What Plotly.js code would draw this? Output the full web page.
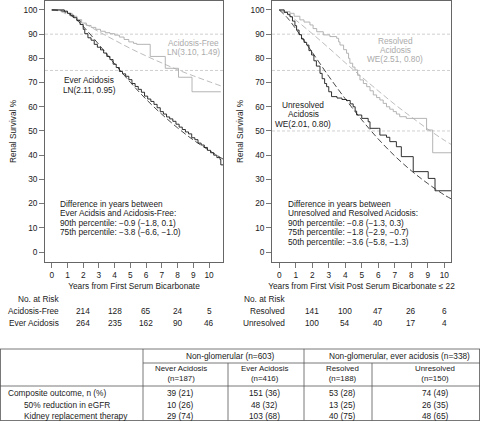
<!DOCTYPE html>
<html><head><meta charset="utf-8">
<script src="https://cdn.plot.ly/plotly-3.0.1.min.js"></script>
<style>html,body{margin:0;padding:0;background:#fff}#chart{width:480px;height:422px}</style>
</head><body><div id="chart"></div>
<script>
// ---------- Left panel: Kaplan-Meier (steps) ----------
const everAcidosisT = [0,0.6,0.8,1.0,1.2,1.4,1.6,1.8,2.0,2.1,2.3,2.5,2.7,2.9,3.1,3.3,3.5,3.7,3.9,4.1,4.3,4.5,4.7,4.9,5.1,5.3,5.5,5.7,5.9,6.1,6.3,6.5,6.7,6.9,7.1,7.3,7.5,7.7,7.9,8.1,8.3,8.5,8.7,8.9,9.1,9.3,9.5,9.7,9.9,10.1,10.3,10.5,10.7,10.75,10.89];
const everAcidosisS = [100,100,99.5,98.6,97.8,96.8,95.6,94.0,92.0,90.2,88.5,87.5,85.8,84.6,83.5,82.2,80.8,79.5,77.6,76.2,74.6,73.6,72.6,71.2,69.6,68.4,67.2,66.0,64.4,63.2,62.2,61.0,59.6,58.0,57.0,55.8,55.0,54.0,52.8,51.6,50.6,49.6,48.8,47.2,46.4,45.0,44.2,43.2,42.0,41.0,40.0,39.0,38.2,36.0,36.0];
const acidosisFreeT = [0,0.6,0.8,1.0,1.3,1.6,1.9,2.2,2.5,2.8,3.1,3.4,3.7,4.0,4.3,4.6,4.9,5.2,5.4,6.26,7.22,8.06,8.92,10.75];
const acidosisFreeS = [100,100,99.4,98.6,97.4,96.0,94.6,93.6,92.8,92.0,91.2,90.6,90.2,89.6,88.8,87.8,86.8,86.2,85.8,80.8,75.9,72.2,66.2,66.2];
// fitted
const fitLeftT = [0,0.5,1,1.5,2,3,4,5,6,7,8,9,10,10.89];
const fitEverS = [100,99.8,98.7,96.4,93.2,85.7,77.7,70.1,63.1,56.9,51.3,46.3,42.0,38.4];
const fitFreeS = [100,99.5,98.1,96.5,94.7,91.0,87.5,84.1,81.0,78.1,75.3,72.8,70.4,68.3];

// ---------- Right panel ----------
const unresolvedT = [0,0.3,0.5,0.65,0.8,0.95,1.05,1.2,1.35,1.5,1.66,1.8,1.96,2.1,2.25,2.47,2.6,2.75,2.87,3.0,3.17,3.5,3.8,4.08,4.3,4.48,4.6,4.69,5.0,5.39,5.5,6.0,6.1,6.5,6.7,7.1,7.4,8.12,9.03,9.44,10.41];
const unresolvedS = [100,99,98.2,97.2,95.4,93.5,91.7,89.8,88.0,86.6,85.5,83.2,81.4,79.0,76.8,73.8,71.6,69.6,68.3,66.2,64.2,63.6,63.0,62.6,61.2,60.0,58.2,56.6,55.2,53.8,51.1,51.1,48.3,47.4,45.6,43.5,39.4,33.2,30.4,25.3,25.3];
const resolvedT = [0,0.3,0.65,0.9,1.25,1.5,1.86,2.05,2.27,2.67,3.07,3.48,3.6,3.68,3.9,4.08,4.2,4.28,4.45,4.59,4.75,4.89,5.1,5.3,5.5,5.7,5.9,6.1,6.3,6.5,6.7,6.91,7.1,7.3,7.7,8.93,9.3,10.41];
const resolvedS = [100,99.3,98.6,97.4,95.9,95.0,93.8,92.3,91.0,89.7,89.0,88.3,86.8,85.5,83.6,82.1,80.0,78.0,76.4,75.2,73.0,71.1,69.6,68.3,66.6,64.9,63.8,62.8,61.4,60.0,59.0,58.0,57.0,55.9,55.2,50.4,41.0,41.0];
const fitRightT = [0,0.5,1,2,3,4,5,6,7,8,9,10,10.41];
const fitUnresolvedS = [100,96.7,92.2,82.5,72.6,63.3,54.6,46.7,39.7,33.6,28.3,23.6,22.0];
const fitResolvedS = [100,98.2,95.8,90.2,84.3,78.2,72.3,66.6,61.0,55.8,50.8,46.2,44.5];

// ---------- Risk tables ----------
const riskTimes = [2,4,6,8,10];
const riskAcidosisFree = [214,128,65,24,5];
const riskEverAcidosis = [264,235,162,90,46];
const riskResolved = [141,100,47,26,6];
const riskUnresolved = [100,54,40,17,4];

// ---------- Outcome table ----------
const tableRowLabels = ['Composite outcome, n (%)','50% reduction in eGFR','Kidney replacement therapy'];
const tableGroupHeaders = ['Non-glomerular (n=603)','Non-glomerular, ever acidosis (n=338)'];
const tableColNames = ['Never Acidosis','Ever Acidosis','Resolved','Unresolved'];
const tableColN = ['(n=187)','(n=416)','(n=188)','(n=150)'];
const tableValues = [
  ['39 (21)','151 (36)','53 (28)','74 (49)'],
  ['10 (26)','48 (32)','13 (25)','26 (35)'],
  ['29 (74)','103 (68)','40 (75)','48 (65)']
];

const W = 480, H = 422;
const PX = x => x / W;
const PY = y => 1 - y / H;
const FONT = 'Liberation Sans, Arial, Helvetica, sans-serif';
const BLACK = '#1a1a1a', GRAY = '#ababab', LINE = '#555';
const FS = 8.3;

function step(x, y, color, xa, ya) {
  return {x, y, xaxis: xa, yaxis: ya, mode: 'lines', line: {shape: 'hv', color, width: 0.9}, hoverinfo: 'skip'};
}
function fit(x, y, color, xa, ya) {
  return {x, y, xaxis: xa, yaxis: ya, mode: 'lines', line: {shape: 'spline', color, width: 0.8, dash: '6px,3px'}, hoverinfo: 'skip'};
}

const traces = [
  fit(fitLeftT, fitFreeS, GRAY, 'x', 'y'),
  step(acidosisFreeT, acidosisFreeS, GRAY, 'x', 'y'),
  fit(fitLeftT, fitEverS, BLACK, 'x', 'y'),
  step(everAcidosisT, everAcidosisS, BLACK, 'x', 'y'),
  fit(fitRightT, fitResolvedS, GRAY, 'x2', 'y2'),
  step(resolvedT, resolvedS, GRAY, 'x2', 'y2'),
  fit(fitRightT, fitUnresolvedS, BLACK, 'x2', 'y2'),
  step(unresolvedT, unresolvedS, BLACK, 'x2', 'y2')
];

const ydom = [1 - 262 / H, 1 - 1 / H];
function xax(dom, range, title) {
  return {domain: dom, range, tickvals: [0,1,2,3,4,5,6,7,8,9,10], ticks: 'outside', ticklen: 5, tickwidth: 0.8,
    tickcolor: LINE, showline: true, mirror: true, linecolor: LINE, linewidth: 0.9, showgrid: false, zeroline: false,
    tickfont: {size: FS, color: BLACK, family: FONT}, fixedrange: true,
    title: {text: title, font: {size: FS, color: BLACK, family: FONT}, standoff: 4}};
}
function yax(anchor, title) {
  return {domain: ydom, range: [-4.13, 103.7], tickvals: [0,10,20,30,40,50,60,70,80,90,100], ticks: 'outside', ticklen: 5,
    tickwidth: 0.8, tickcolor: LINE, showline: true, mirror: true, linecolor: LINE, linewidth: 0.9, showgrid: false,
    zeroline: false, anchor, tickfont: {size: FS, color: BLACK, family: FONT}, fixedrange: true,
    title: {text: title, font: {size: FS, color: BLACK, family: FONT}, standoff: 5}};
}

const shapes = [];
function hdash(xref, yref, y) {
  shapes.push({type: 'line', xref: xref + ' domain', yref, x0: 0, x1: 1, y0: y, y1: y,
    line: {color: '#c4c4c4', width: 0.8, dash: '3px,2px'}, layer: 'below'});
}
[90, 75].forEach(v => hdash('x', 'y', v));
[90, 75, 50].forEach(v => hdash('x2', 'y2', v));

// table lines (pixel positions)
function tline(x0, y0, x1, y1) {
  shapes.push({type: 'line', xref: 'paper', yref: 'paper', x0: PX(x0), x1: PX(x1), y0: PY(y0), y1: PY(y1),
    line: {color: LINE, width: 0.8}});
}
tline(0, 349, 480, 349);
tline(143, 363, 480, 363);
tline(0, 386, 480, 386);
tline(0, 420.5, 480, 420.5);
tline(0.5, 349, 0.5, 420.5);
tline(143, 349, 143, 420.5);
tline(228, 363, 228, 420.5);
tline(304, 349, 304, 420.5);
tline(372, 363, 372, 420.5);
tline(479.5, 349, 479.5, 420.5);

const ann = [];
function txt(x, y, text, opts = {}) {
  ann.push(Object.assign({xref: 'paper', yref: 'paper', x: PX(x), y: PY(y), text, showarrow: false,
    xanchor: 'center', yanchor: 'middle', font: {size: FS, color: BLACK, family: FONT}}, opts));
}
// curve labels
txt(193, 43, 'Acidosis-Free', {font: {size: FS, color: GRAY, family: FONT}});
txt(193, 52, 'LN(3.10, 1.49)', {font: {size: FS, color: GRAY, family: FONT}});
txt(89, 80, 'Ever Acidosis');
txt(89, 90, 'LN(2.11, 0.95)');
txt(395, 40.7, 'Resolved', {font: {size: FS, color: GRAY, family: FONT}});
txt(395, 50, 'Acidosis', {font: {size: FS, color: GRAY, family: FONT}});
txt(395, 59.3, 'WE(2.51, 0.80)', {font: {size: FS, color: GRAY, family: FONT}});
txt(303, 105, 'Unresolved');
txt(303, 114.3, 'Acidosis');
txt(303, 124, 'WE(2.01, 0.80)');
// difference blocks
const diffLeft = ['Difference in years between','Ever Acidsis and Acidosis-Free:','90th percentile: \u22120.9 (\u22121.8, 0.1)','75th percentile: \u22123.8 (\u22126.6, \u22121.0)'];
const diffRight = ['Difference in years between','Unresolved and Resolved Acidosis:','90th percentile: \u22120.8 (\u22121.3, 0.3)','75th percentile: \u22121.8 (\u22122.9, \u22120.7)','50th percentile: \u22123.6 (\u22125.8, \u22121.3)'];
diffLeft.forEach((t, i) => txt(58, 204 + i * 9.4, t, {xanchor: 'left'}));
diffRight.forEach((t, i) => txt(286, 204 + i * 9.4, t, {xanchor: 'left'}));
// risk tables
txt(61, 299, 'No. at Risk', {xanchor: 'right'});
txt(61, 310.7, 'Acidosis-Free', {xanchor: 'right'});
txt(61, 322.7, 'Ever Acidosis', {xanchor: 'right'});
txt(287, 299, 'No. at Risk', {xanchor: 'right'});
txt(287, 310.7, 'Resolved', {xanchor: 'right'});
txt(287, 322.7, 'Unresolved', {xanchor: 'right'});
function riskRow(xref, times, vals, y) {
  times.forEach((t, i) => ann.push({xref, yref: 'paper', x: t, y: PY(y), text: String(vals[i]), showarrow: false,
    xanchor: 'center', yanchor: 'middle', font: {size: FS, color: BLACK, family: FONT}}));
}
riskRow('x', riskTimes, riskAcidosisFree, 310.7);
riskRow('x', riskTimes, riskEverAcidosis, 322.7);
riskRow('x2', riskTimes, riskResolved, 310.7);
riskRow('x2', riskTimes, riskUnresolved, 322.7);
// outcome table
txt(230, 356, tableGroupHeaders[0]);
txt(399, 356, tableGroupHeaders[1]);
const colCenters = [180.5, 264, 342, 435];
tableColNames.forEach((n, i) => txt(colCenters[i], 373.8, n + '<br>' + tableColN[i], {font: {size: 7.9, color: BLACK, family: FONT}}));
const rowY = [393, 405, 416.3];
const rowX = [6, 21.5, 21.5];
tableRowLabels.forEach((l, r) => {
  txt(rowX[r], rowY[r], l, {xanchor: 'left'});
  tableValues[r].forEach((v, c) => txt(colCenters[c], rowY[r], v));
});

const layout = {
  width: W, height: H, margin: {l: 0, r: 0, t: 0, b: 0}, paper_bgcolor: '#fff', plot_bgcolor: '#fff',
  showlegend: false, font: {family: FONT, size: FS, color: BLACK},
  xaxis: xax([45 / W, 223 / W], [-0.43, 10.89], 'Years from First Serum Bicarbonate'),
  yaxis: yax('x', 'Renal Survival %'),
  xaxis2: xax([272 / W, 451 / W], [-0.44, 10.41], 'Years from First Visit Post Serum Bicarbonate \u2264 22'),
  yaxis2: yax('x2', 'Renal Survival %'),
  shapes, annotations: ann
};
layout.xaxis.anchor = 'y';
layout.xaxis2.anchor = 'y2';
Plotly.newPlot('chart', traces, layout, {staticPlot: true, displayModeBar: false});
</script></body></html>
